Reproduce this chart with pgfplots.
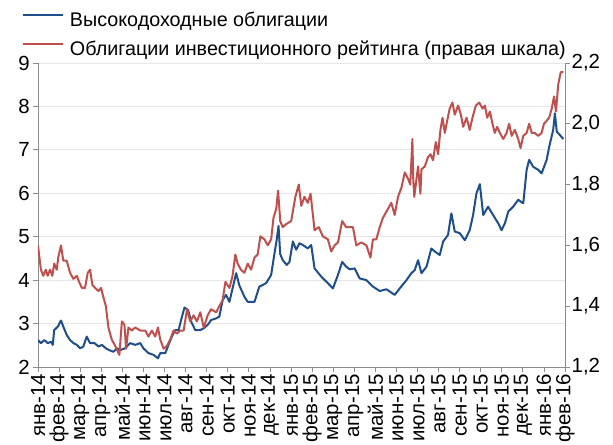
\documentclass[border=0pt]{standalone}
\usepackage{fontspec}
\setmainfont{Liberation Sans}
\usepackage{pgfplots}
\pgfplotsset{compat=1.18}
\definecolor{hyblue}{HTML}{1F4E8C}
\definecolor{igred}{HTML}{C0504D}
\definecolor{axgray}{HTML}{8C8C8C}
\definecolor{gridgray}{HTML}{E6E6E6}
\begin{document}
\begin{tikzpicture}
\path[use as bounding box] (-38bp,-78bp) rectangle (575bp,367bp);
\pgfplotsset{
  every axis/.append style={
    scale only axis, width=527bp, height=304bp,
    xmin=0, xmax=25,
    font=\fontsize{20.5}{24}\selectfont,
    /pgf/number format/assume math mode=true,
    tick align=outside, major tick length=5bp,
    every tick/.style={axgray, line width=0.75bp},
    axis line style={axgray, line width=0.75bp},
  }
}
\begin{axis}[
  at={(0,0)}, anchor=south west,
  axis y line*=left, axis x line*=bottom,
  ymin=2, ymax=9, ytick={2,3,4,5,6,7,8,9},
  ymajorgrids, grid style={gridgray, line width=0.75bp},
  xtick={0,...,25},
  xticklabels={янв-14,фев-14,мар-14,апр-14,май-14,июн-14,июл-14,авг-14,сен-14,окт-14,ноя-14,дек-14,янв-15,фев-15,мар-15,апр-15,май-15,июн-15,июл-15,авг-15,сен-15,окт-15,ноя-15,дек-15,янв-16,фев-16},
  x tick label style={rotate=90, anchor=east, inner sep=2bp},
  y tick label style={inner sep=3bp},
]
\addplot[hyblue, line width=2bp, line join=round] coordinates {
(0,2.62) (0.14,2.55) (0.30,2.62) (0.46,2.55) (0.62,2.58) (0.70,2.51) (0.77,2.85) (0.94,2.93) (1.09,3.07) (1.20,2.93) (1.36,2.74) (1.52,2.62) (1.68,2.55) (1.84,2.51) (2.00,2.43) (2.15,2.47) (2.31,2.70) (2.47,2.55) (2.68,2.55) (2.87,2.47) (3.03,2.51) (3.22,2.43) (3.37,2.39) (3.58,2.35) (3.74,2.43) (3.90,2.39) (4.13,2.43) (4.37,2.55) (4.61,2.51) (4.85,2.55) (5.00,2.43) (5.24,2.32) (5.48,2.28) (5.69,2.20) (5.80,2.32) (6.04,2.32) (6.19,2.51) (6.35,2.70) (6.51,2.85) (6.67,2.85) (6.83,3.16) (6.95,3.37) (7.12,3.31) (7.27,3.04) (7.46,2.85) (7.70,2.85) (7.86,2.89) (8.05,2.97) (8.21,3.08) (8.45,3.12) (8.60,3.16) (8.76,3.54) (8.92,3.66) (9.08,3.50) (9.23,3.81) (9.40,4.16)
(9.55,3.88) (9.79,3.62) (9.95,3.50) (10.27,3.50) (10.50,3.85) (10.82,3.93) (11.06,4.12) (11.22,4.62) (11.33,4.95) (11.41,5.25) (11.49,4.60) (11.61,4.46) (11.80,4.35) (11.93,4.42) (12.09,4.89) (12.25,4.70) (12.40,4.85) (12.56,4.81) (12.80,4.73) (12.96,4.81) (13.12,4.27) (13.44,4.08) (13.75,3.93) (13.99,3.81) (14.23,4.12) (14.43,4.42) (14.62,4.31) (14.78,4.25) (15.02,4.27) (15.26,4.04) (15.58,4.00) (15.89,3.85) (16.21,3.75) (16.53,3.79) (16.92,3.66) (17.16,3.81) (17.48,4.00) (17.71,4.16)
(17.87,4.23) (18.03,4.46) (18.19,4.16) (18.43,4.31) (18.66,4.73) (18.82,4.66) (19.06,4.58) (19.22,4.89) (19.45,5.04) (19.61,5.54) (19.77,5.12) (20.01,5.08) (20.25,4.92) (20.48,5.15) (20.64,5.50) (20.80,6.00) (20.96,6.21) (21.12,5.50) (21.35,5.69) (21.59,5.50) (21.83,5.31) (21.99,5.15) (22.15,5.31) (22.31,5.58) (22.54,5.69) (22.78,5.85) (23.02,5.77) (23.18,6.54) (23.30,6.77) (23.49,6.61) (23.73,6.54) (23.89,6.46) (24.13,6.77) (24.25,7.07) (24.44,7.46) (24.52,7.84) (24.61,7.42) (24.76,7.34) (24.92,7.25)
};
\end{axis}
\begin{axis}[
  at={(0,0)}, anchor=south west,
  axis y line*=right, axis x line=none,
  ymin=1.2, ymax=2.2, ytick={1.2,1.4,1.6,1.8,2.0,2.2},
  y tick label style={inner sep=1.5bp, /pgf/number format/.cd, fixed, fixed zerofill, precision=1, use comma},
  legend style={at={(-0.0304,1.1710)}, anchor=north west, draw=none, fill=none, inner sep=0pt, outer sep=0pt, row sep=10bp, column sep=6bp, font=\fontsize{19.8}{24}\selectfont, nodes={inner sep=0pt, text height=15bp, text depth=4bp}},
  legend cell align=left,
  legend image code/.code={\draw[#1] (0bp,5.5bp) -- (40bp,5.5bp);},
]
\addlegendimage{hyblue, line width=2bp}
\addlegendentry{Высокодоходные облигации}
\addplot[igred, line width=2bp, line join=round] coordinates {
(0,1.60) (0.05,1.57) (0.14,1.52) (0.25,1.50) (0.37,1.52) (0.46,1.50) (0.57,1.52) (0.68,1.50) (0.77,1.54) (0.89,1.52) (0.96,1.56) (1.09,1.60) (1.20,1.55) (1.36,1.55) (1.52,1.51) (1.68,1.49) (1.84,1.50) (1.95,1.48) (2.08,1.46) (2.23,1.46) (2.36,1.51) (2.47,1.52) (2.58,1.47) (2.71,1.46) (2.87,1.45) (2.99,1.46) (3.10,1.43) (3.22,1.40) (3.34,1.33) (3.50,1.29) (3.66,1.27) (3.79,1.25) (3.86,1.24) (3.98,1.35) (4.10,1.34) (4.18,1.26) (4.29,1.33) (4.45,1.32) (4.61,1.33) (4.85,1.32) (5.09,1.32) (5.24,1.30) (5.40,1.32) (5.56,1.30) (5.69,1.33) (5.80,1.29) (5.96,1.26) (6.12,1.27) (6.27,1.29) (6.43,1.32) (6.59,1.31) (6.75,1.32) (6.91,1.32) (7.07,1.39) (7.22,1.35) (7.38,1.37) (7.54,1.35) (7.70,1.38) (7.86,1.33) (8.05,1.37) (8.21,1.39) (8.45,1.38) (8.60,1.40)
(8.76,1.42) (8.89,1.48) (9.08,1.46) (9.23,1.50) (9.36,1.57) (9.47,1.54) (9.63,1.52) (9.79,1.51) (9.95,1.54) (10.11,1.52) (10.27,1.56) (10.42,1.57) (10.55,1.63) (10.74,1.62) (10.90,1.60) (11.06,1.62) (11.17,1.69) (11.30,1.72) (11.39,1.78) (11.49,1.68) (11.61,1.66) (11.77,1.67) (12.01,1.68) (12.21,1.76) (12.37,1.80) (12.49,1.73) (12.64,1.76) (12.80,1.74) (12.93,1.77) (13.12,1.65) (13.32,1.66) (13.51,1.63) (13.75,1.62) (13.91,1.58) (14.07,1.60) (14.23,1.61) (14.43,1.68) (14.62,1.66) (14.94,1.66) (15.10,1.60) (15.34,1.61) (15.58,1.60) (15.77,1.56) (15.89,1.62) (16.05,1.62) (16.21,1.66) (16.36,1.69) (16.60,1.72) (16.76,1.74) (16.92,1.70) (17.08,1.76) (17.24,1.79) (17.40,1.84) (17.55,1.82) (17.66,1.80)
(17.76,1.95) (17.80,1.82) (17.85,1.76) (18.03,1.86) (18.14,1.77) (18.19,1.85) (18.35,1.86) (18.50,1.89) (18.62,1.90) (18.74,1.88) (18.87,1.94) (18.98,1.90) (19.09,1.98) (19.19,2.02) (19.30,1.97) (19.41,2.01) (19.53,2.05) (19.66,2.07) (19.77,2.03) (19.93,2.06) (20.06,2.03) (20.17,1.99) (20.33,2.02) (20.48,1.98) (20.61,2.02) (20.77,2.06) (20.93,2.07) (21.09,2.05) (21.20,2.06) (21.31,2.02) (21.44,2.04) (21.56,2.00) (21.67,1.97) (21.78,1.99) (21.91,1.97) (22.07,1.95) (22.23,1.97) (22.35,2.00) (22.47,1.96) (22.62,1.98) (22.78,1.95) (22.89,1.92) (23.02,1.96) (23.18,1.97) (23.30,2.00) (23.42,1.97) (23.57,1.97) (23.73,1.96) (23.89,1.97) (24.00,2.00) (24.13,2.01) (24.25,2.02) (24.37,2.05) (24.48,2.09) (24.57,2.04) (24.68,2.13) (24.80,2.17) (24.92,2.17)
};
\addlegendentry{Облигации инвестиционного рейтинга (правая шкала)}
\end{axis}
\end{tikzpicture}
\end{document}
